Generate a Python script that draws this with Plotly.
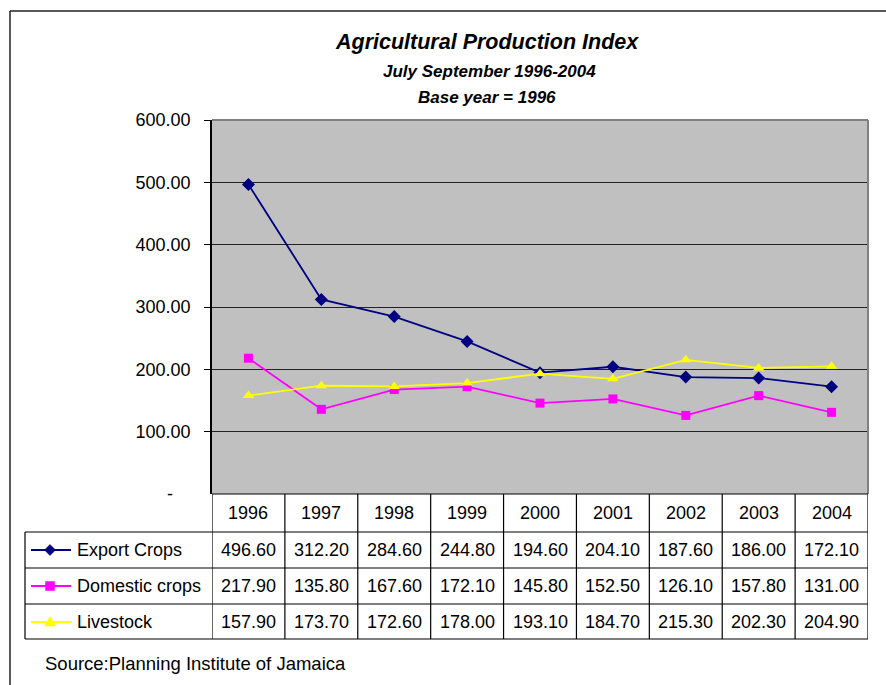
import plotly.graph_objects as go

years = ["1996", "1997", "1998", "1999", "2000", "2001", "2002", "2003", "2004"]
export_crops = [496.60, 312.20, 284.60, 244.80, 194.60, 204.10, 187.60, 186.00, 172.10]
domestic_crops = [217.90, 135.80, 167.60, 172.10, 145.80, 152.50, 126.10, 157.80, 131.00]
livestock = [157.90, 173.70, 172.60, 178.00, 193.10, 184.70, 215.30, 202.30, 204.90]
series_names = ["Export Crops", "Domestic crops", "Livestock"]
y_ticks = [100, 200, 300, 400, 500, 600]

W, H = 886, 685
FONT = "Liberation Sans, Arial, sans-serif"

def px(x):
    return x / W

def py(y):
    return 1 - y / H

# plot area in pixels
L, R, T, B = 212, 868, 120, 494

series = [
    (series_names[0], export_crops, "#000080", "diamond", 10),
    (series_names[1], domestic_crops, "#FF00FF", "square", 9),
    (series_names[2], livestock, "#FFFF00", "triangle-up", 10),
]

fig = go.Figure()
xs = list(range(len(years)))
for name, vals, col, sym, sz in series:
    fig.add_trace(go.Scatter(
        x=xs, y=vals, mode="lines+markers", name=name,
        line=dict(color=col, width=1.8),
        marker=dict(symbol=sym, size=sz, color=col, line=dict(width=0)),
        cliponaxis=False, showlegend=False, hoverinfo="skip",
    ))

shapes = []
annotations = []

# plot background
shapes.append(dict(type="rect", xref="paper", yref="paper",
                   x0=px(L), x1=px(R), y0=py(B), y1=py(T),
                   fillcolor="#C0C0C0", line=dict(width=0), layer="below"))
# top/right gray border
shapes.append(dict(type="line", xref="paper", yref="paper", x0=px(L), x1=px(R), y0=py(T), y1=py(T),
                   line=dict(color="#808080", width=2)))
shapes.append(dict(type="line", xref="paper", yref="paper", x0=px(R), x1=px(R), y0=py(T), y1=py(B),
                   line=dict(color="#808080", width=2)))

# outer chart border
shapes.append(dict(type="line", xref="paper", yref="paper", x0=px(10), x1=px(900), y0=py(11), y1=py(11),
                   line=dict(color="#222", width=1.5)))
shapes.append(dict(type="line", xref="paper", yref="paper", x0=px(10), x1=px(10), y0=py(11), y1=py(700),
                   line=dict(color="#222", width=1.5)))

# data table
row_lines = [494, 532, 568, 604, 639]
row_centers = [513, 550, 586, 622]
TL = 25
shapes.append(dict(type="line", xref="paper", yref="paper", x0=px(L), x1=px(R), y0=py(row_lines[0]), y1=py(row_lines[0]),
                   line=dict(color="black", width=1.2)))
for yl in row_lines[1:]:
    shapes.append(dict(type="line", xref="paper", yref="paper", x0=px(TL), x1=px(R), y0=py(yl), y1=py(yl),
                       line=dict(color="black", width=1.2)))
for k in range(len(years) + 1):
    shapes.append(dict(type="line", xref="x", yref="paper", x0=k - 0.5, x1=k - 0.5,
                       y0=py(row_lines[0]), y1=py(row_lines[-1]), line=dict(color="black", width=1.2)))
shapes.append(dict(type="line", xref="paper", yref="paper", x0=px(TL), x1=px(TL),
                   y0=py(row_lines[1]), y1=py(row_lines[-1]), line=dict(color="black", width=1.2)))

# header years
for k, yr in enumerate(years):
    annotations.append(dict(x=k, y=py(row_centers[0]), xref="x", yref="paper", text=yr, showarrow=False,
                            font=dict(family=FONT, size=18, color="black"), xanchor="center", yanchor="middle"))

def marker_path(sym, cx, cy, r):
    if sym == "diamond":
        pts = [(cx, cy - r), (cx + r, cy), (cx, cy + r), (cx - r, cy)]
    elif sym == "square":
        pts = [(cx - r, cy - r), (cx + r, cy - r), (cx + r, cy + r), (cx - r, cy + r)]
    else:
        pts = [(cx, cy - r * 1.1), (cx + r * 1.1, cy + r * 0.8), (cx - r * 1.1, cy + r * 0.8)]
    return "M " + " L ".join(f"{px(a)},{py(b)}" for a, b in pts) + " Z"

sizes = {"diamond": 5.5, "square": 4.5, "triangle-up": 5}
for i, (name, vals, col, sym, sz) in enumerate(series):
    yc = row_centers[i + 1]
    shapes.append(dict(type="line", xref="paper", yref="paper", x0=px(31), x1=px(71), y0=py(yc), y1=py(yc),
                       line=dict(color=col, width=1.8)))
    shapes.append(dict(type="path", xref="paper", yref="paper", path=marker_path(sym, 50, yc, sizes[sym]),
                       fillcolor=col, line=dict(color=col, width=0.5)))
    annotations.append(dict(x=px(75), y=py(yc), xref="paper", yref="paper", text=name, showarrow=False,
                            font=dict(family=FONT, size=18, color="black"), xanchor="left", yanchor="middle"))
    for k, v in enumerate(vals):
        annotations.append(dict(x=k, y=py(yc), xref="x", yref="paper", text=f"{v:.2f}", showarrow=False,
                                font=dict(family=FONT, size=18, color="black"), xanchor="center", yanchor="middle"))

# zero label "-"
annotations.append(dict(x=px(170), y=py(494), xref="paper", yref="paper", text="-", showarrow=False,
                        font=dict(family=FONT, size=18, color="black"), xanchor="center", yanchor="middle"))

# titles
annotations.append(dict(x=px(487), y=py(42), xref="paper", yref="paper",
                        text="<b><i>Agricultural Production Index</i></b>", showarrow=False,
                        font=dict(family=FONT, size=21.5, color="black"), xanchor="center", yanchor="middle"))
annotations.append(dict(x=px(489), y=py(71), xref="paper", yref="paper",
                        text="<b><i>July September 1996-2004</i></b>", showarrow=False,
                        font=dict(family=FONT, size=17, color="black"), xanchor="center", yanchor="middle"))
annotations.append(dict(x=px(487), y=py(97), xref="paper", yref="paper",
                        text="<b><i>Base year = 1996</i></b>", showarrow=False,
                        font=dict(family=FONT, size=17, color="black"), xanchor="center", yanchor="middle"))

# source
annotations.append(dict(x=px(43), y=py(663), xref="paper", yref="paper",
                        text="Source:Planning Institute of Jamaica", showarrow=False,
                        font=dict(family=FONT, size=18.5, color="black"), xanchor="left", yanchor="middle"))

fig.update_layout(
    width=W, height=H,
    margin=dict(l=0, r=0, t=0, b=0, pad=0),
    paper_bgcolor="white",
    plot_bgcolor="rgba(0,0,0,0)",
    showlegend=False,
    hovermode=False,
    shapes=shapes,
    annotations=annotations,
    xaxis=dict(domain=[px(L), px(R)], range=[-0.5, len(years) - 0.5], showticklabels=False,
               showgrid=False, zeroline=False, ticks="", showline=False, automargin=False),
    yaxis=dict(domain=[py(B), py(T)], range=[0, 600], tickvals=y_ticks,
               ticktext=[f"{v:.2f}" for v in y_ticks],
               showgrid=True, gridcolor="#222222", gridwidth=1,
               zeroline=False, showline=True, linecolor="black", linewidth=1.5,
               ticks="outside", ticklen=6, tickcolor="black", automargin=False,
               tickfont=dict(family=FONT, size=18, color="black"), ticklabelstandoff=10),
)

fig.write_html("out.html", config={"displayModeBar": False},
               post_script="document.body.style.margin='0';document.body.style.overflow='hidden';")
